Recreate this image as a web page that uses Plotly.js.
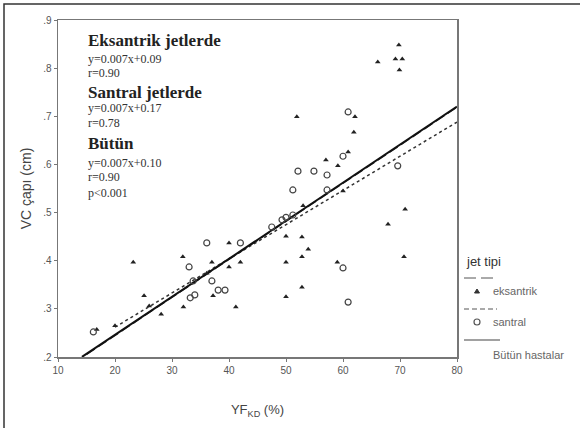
<!DOCTYPE html>
<html>
<head>
<meta charset="utf-8">
<script src="https://cdn.plot.ly/plotly-3.0.1.min.js"></script>
<style>html,body{margin:0;padding:0;background:#fff;}#chart{width:580px;height:428px;}</style>
</head>
<body>
<div id="chart"></div>
<script>
// ---- data ----
const eksX = [16.8, 20.0, 23.2, 25.1, 26.0, 28.1, 31.9, 32.0, 36.1, 37.0, 37.2, 40.0, 40.0, 41.2, 42.0,
  50.0, 50.0, 50.0, 52.8, 53.9, 52.8, 52.8, 53.0, 59.0, 67.9, 70.7, 70.9, 51.9, 62.1, 61.9, 60.9,
  57.0, 59.1, 60.0, 69.8, 69.2, 70.4, 69.9, 66.1];
const eksY = [0.257, 0.265, 0.397, 0.327, 0.306, 0.289, 0.408, 0.304, 0.374, 0.397, 0.327, 0.437, 0.387, 0.304, 0.397,
  0.451, 0.397, 0.325, 0.449, 0.424, 0.408, 0.345, 0.514, 0.397, 0.476, 0.408, 0.507, 0.699, 0.699, 0.667, 0.626,
  0.609, 0.597, 0.545, 0.848, 0.819, 0.819, 0.796, 0.813];
const santX = [16.2, 33.0, 36.1, 42.0, 33.7, 37.0, 38.1, 39.3, 34.0, 33.2, 60.0, 60.9, 60.9, 60.0, 52.1,
  54.9, 57.2, 51.2, 57.2, 69.6, 49.3, 51.2, 50.0, 47.5];
const santY = [0.252, 0.387, 0.437, 0.437, 0.358, 0.358, 0.339, 0.339, 0.329, 0.323, 0.385, 0.314, 0.709, 0.617, 0.586,
  0.586, 0.578, 0.547, 0.547, 0.597, 0.485, 0.495, 0.490, 0.470];
// fit lines: [slope, intercept, xStart, xEnd]
const fitAll = [0.0079, 0.088, 14.2, 80];
const fitSant = [0.0071, 0.120, 20, 80];
const fitEks = [0.0079, 0.087, 15, 80];
const xTickVals = [10, 20, 30, 40, 50, 60, 70, 80];
const xTickText = ['10', '20', '30', '40', '50', '60', '70', '80'];
const yTickVals = [0.2, 0.3, 0.4, 0.5, 0.6, 0.7, 0.8, 0.9];
const yTickText = ['.2', '.3', '.4', '.5', '.6', '.7', '.8', '.9'];
const eqLines = [
  ['Eksantrik jetlerde', true], ['y=0.007x+0.09', false], ['r=0.90', false],
  ['Santral jetlerde', true], ['y=0.007x+0.17', false], ['r=0.78', false],
  ['Bütün', true], ['y=0.007x+0.10', false], ['r=0.90', false], ['p<0.001', false]
];
const legendTitle = 'jet tipi';
const legendLabels = ['eksantrik', 'santral', 'Bütün hastalar'];

// ---- layout helpers (pixel -> paper) ----
const L = 58, R = 457, T = 20, B = 357;
const px = p => (p - L) / (R - L);
const py = p => (B - p) / (B - T);

function fitTrace(f, dash, width, color) {
  return {x: [f[2], f[3]], y: [f[0] * f[2] + f[1], f[0] * f[3] + f[1]], mode: 'lines', type: 'scatter',
    line: {color: color, width: width, dash: dash}, hoverinfo: 'skip', showlegend: false};
}

const traces = [
  fitTrace(fitSant, '3px,3px', 1.5, '#333'),
  fitTrace(fitEks, '10px,4px', 1.5, '#222'),
  fitTrace(fitAll, 'solid', 2, '#111'),
  {x: eksX, y: eksY, mode: 'markers', type: 'scatter', showlegend: false,
    marker: {symbol: 'triangle-up', size: 5, color: '#222'}},
  {x: santX, y: santY, mode: 'markers', type: 'scatter', showlegend: false,
    marker: {symbol: 'circle-open', size: 6, color: '#444', line: {width: 1.2, color: '#444'}}}
];

const eqY = [40, 59, 73, 92, 108, 123, 143, 163, 177, 193];
const annotations = eqLines.map((e, i) => ({
  xref: 'paper', yref: 'paper', x: px(86), y: py(eqY[i]), xanchor: 'left', yanchor: 'middle', showarrow: false,
  text: e[1] ? '<b>' + e[0] + '</b>' : e[0],
  font: {family: 'Liberation Serif, Times New Roman, serif', size: e[1] ? 17 : 12, color: e[1] ? '#222' : '#333'}
}));
annotations.push({xref: 'paper', yref: 'paper', x: px(464), y: py(261), xanchor: 'left', yanchor: 'middle', showarrow: false,
  text: legendTitle, font: {family: 'Liberation Sans, Arial, sans-serif', size: 13, color: '#333'}});
const legY = [291, 322, 355];
legendLabels.forEach((t, i) => annotations.push({xref: 'paper', yref: 'paper', x: px(491), y: py(legY[i]), xanchor: 'left',
  yanchor: 'middle', showarrow: false, text: t, font: {family: 'Liberation Sans, Arial, sans-serif', size: 11, color: '#666'}}));

const shapes = [
  {type: 'rect', xref: 'paper', yref: 'paper', x0: px(4), x1: px(582), y0: py(430), y1: py(4), line: {color: '#333', width: 1.5}},
  {type: 'line', xref: 'paper', yref: 'paper', x0: px(464), x1: px(497), y0: py(278), y1: py(278), line: {color: '#555', width: 1, dash: '12px,5px'}},
  {type: 'line', xref: 'paper', yref: 'paper', x0: px(464), x1: px(497), y0: py(309), y1: py(309), line: {color: '#555', width: 1, dash: '5px,3px'}},
  {type: 'line', xref: 'paper', yref: 'paper', x0: px(464), x1: px(500), y0: py(340), y1: py(340), line: {color: '#444', width: 1.2}},
  {type: 'path', xref: 'paper', yref: 'paper', path: 'M' + px(477) + ',' + py(289) + ' L' + px(479.5) + ',' + py(293) + ' L' + px(474.5) + ',' + py(293) + ' Z', fillcolor: '#333', line: {color: '#333', width: 1}},
  {type: 'circle', xref: 'paper', yref: 'paper', x0: px(474), x1: px(480), y0: py(325), y1: py(319), line: {color: '#555', width: 1.2}}
];

const axisCommon = {showgrid: false, zeroline: false, showline: true, mirror: true, linecolor: '#777', linewidth: 1.5,
  ticks: 'outside', ticklen: 3, tickcolor: '#777', tickfont: {family: 'Liberation Sans, Arial, sans-serif', size: 10, color: '#555'}};

const layout = {
  width: 580, height: 428, margin: {l: L, r: 580 - R, t: T, b: 428 - B}, paper_bgcolor: '#fff', plot_bgcolor: '#fff',
  showlegend: false,
  xaxis: Object.assign({}, axisCommon, {range: [10, 80], tickvals: xTickVals, ticktext: xTickText,
    title: {text: 'YF<sub>KD</sub> (%)', font: {family: 'Liberation Sans, Arial, sans-serif', size: 13, color: '#444'}, standoff: 30}}),
  yaxis: Object.assign({}, axisCommon, {range: [0.2, 0.9], tickvals: yTickVals, ticktext: yTickText,
    title: {text: 'VC çapı (cm)', font: {family: 'Liberation Sans, Arial, sans-serif', size: 14, color: '#444'}, standoff: 8}}),
  annotations: annotations, shapes: shapes
};

Plotly.newPlot('chart', traces, layout, {displayModeBar: false, staticPlot: true});
</script>
</body>
</html>
